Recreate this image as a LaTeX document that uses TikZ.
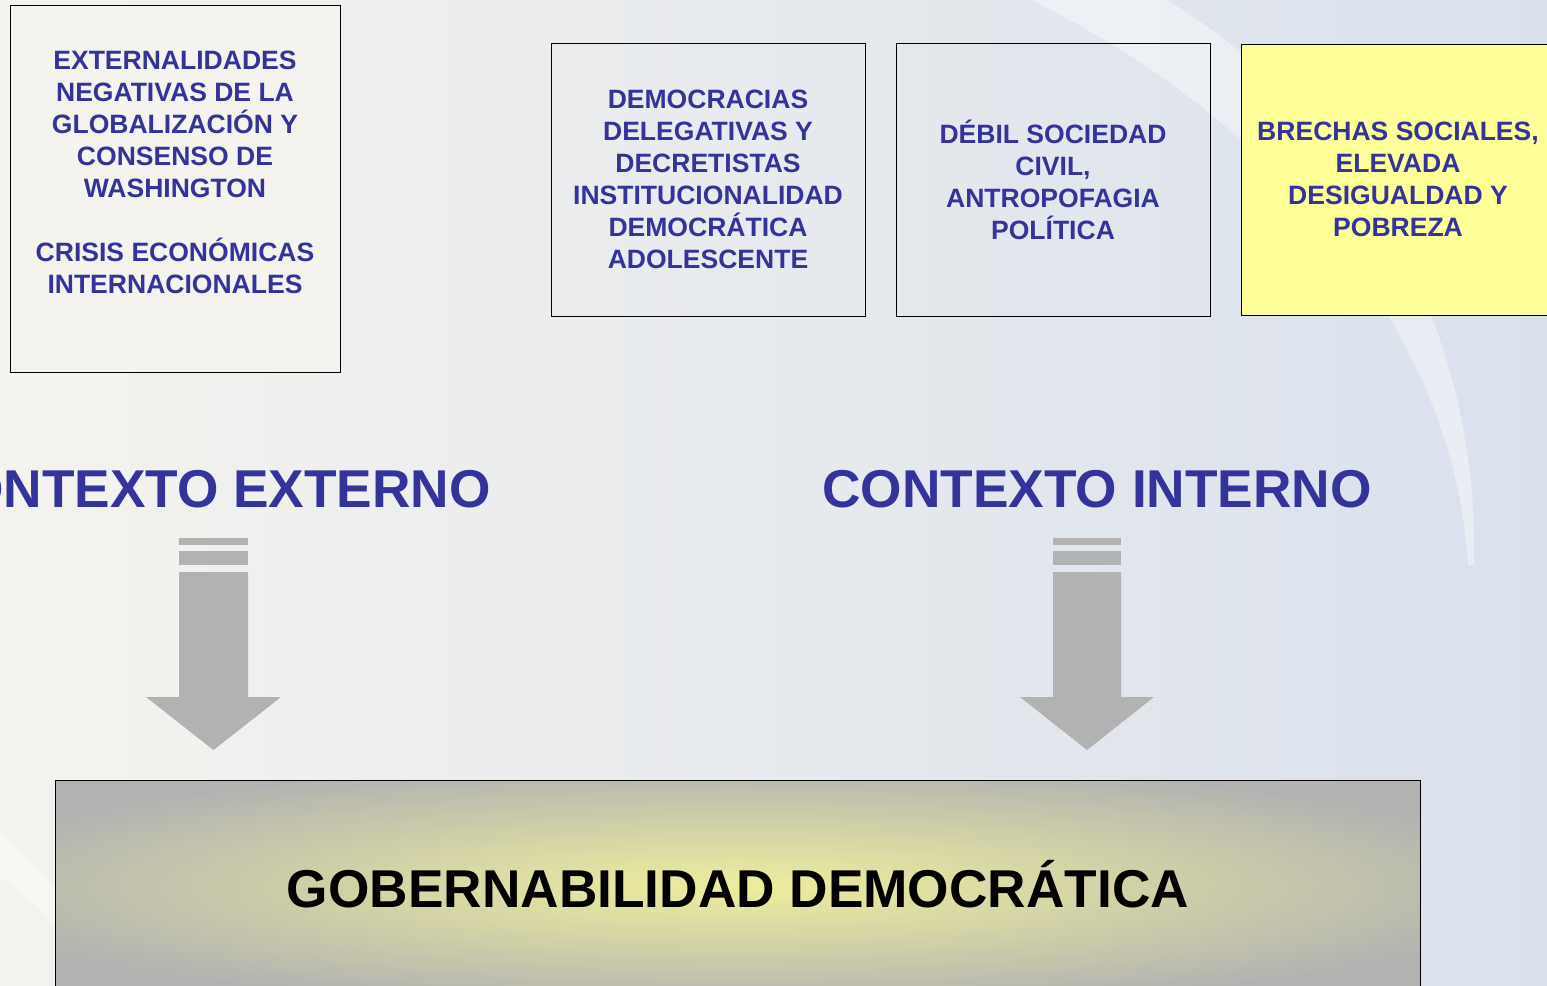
\documentclass[tikz,border=0pt]{standalone}
\usepackage{fontspec}
\setmainfont{Liberation Sans}
\usetikzlibrary{positioning}

\definecolor{azul}{RGB}{51,51,153}
\definecolor{fondoizq}{RGB}{244,243,238}
\definecolor{fondoder}{RGB}{218,225,237}
\definecolor{gris}{RGB}{178,178,178}
\definecolor{brillo}{RGB}{238,238,158}
\definecolor{amarillo}{RGB}{255,255,153}

\tikzset{
  caja/.style={draw=black, thin, align=center, text=azul, inner sep=0pt,
    font=\bfseries\fontsize{15.1}{18.2}\selectfont, minimum width=6.28cm, minimum height=5.46cm},
  titulo/.style={text=azul, inner sep=0pt, font=\bfseries\fontsize{30.3}{36}\selectfont},
  flecha/.style={fill=gris, draw=none}
}

\begin{document}
\begin{tikzpicture}[x=0.02cm,y=-0.02cm]
\useasboundingbox (0,0) rectangle (1547,985);
\clip (0,0) rectangle (1547,985);
% fondo
\shade[left color=fondoizq, right color=fondoder] (0,0) rectangle (1547,985);
\fill[white, opacity=0.4] (1150,-10) .. controls (1360,110) and (1480,330) .. (1474,565)
  -- (1468,565) .. controls (1455,330) and (1270,110) .. (1010,-10) -- cycle;
\fill[white, opacity=0.35] (-10,820) .. controls (20,850) and (40,870) .. (70,905)
  -- (70,945) .. controls (40,905) and (15,885) .. (-10,870) -- cycle;

% cajas de arriba
\node[caja, fill=fondoizq, minimum width=6.6cm, minimum height=7.34cm] (externas) at (175,188.5)
  {EXTERNALIDADES\\NEGATIVAS DE LA\\GLOBALIZACIÓN Y\\CONSENSO DE\\WASHINGTON\\[18.2pt]CRISIS ECONÓMICAS\\INTERNACIONALES\\ \mbox{}};
\node[caja] (democracias) at (708,179.5)
  {DEMOCRACIAS\\DELEGATIVAS Y\\DECRETISTAS\\INSTITUCIONALIDAD\\DEMOCRÁTICA\\ADOLESCENTE};
\node[caja] (sociedad) at (1053,179.5)
  {DÉBIL SOCIEDAD\\CIVIL,\\ANTROPOFAGIA\\POLÍTICA};
\node[caja, fill=amarillo, minimum height=5.42cm] (brechas) at (1398,179.5)
  {BRECHAS SOCIALES,\\ELEVADA\\DESIGUALDAD Y\\POBREZA};

% titulos
\node[titulo, anchor=east] (externo) at (491,489) {CONTEXTO EXTERNO};
\node[titulo] (interno) at (1097,489) {CONTEXTO INTERNO};

% flechas
\fill[flecha] (179,538) rectangle (248,545);
\fill[flecha] (179,551) rectangle (248,565);
\fill[flecha] (179,572) -- (248,572) -- (248,697) -- (281,697) -- (213.5,750)
  -- (146,697) -- (179,697) -- cycle;
\fill[flecha] (1053,538) rectangle (1121,545);
\fill[flecha] (1053,551) rectangle (1121,565);
\fill[flecha] (1053,572) -- (1121,572) -- (1121,697) -- (1154,697) -- (1087,750)
  -- (1020,697) -- (1053,697) -- cycle;

% caja de abajo
\fill[gris] (55,780) rectangle (1420,1000);
\begin{scope}
\clip (55,780) rectangle (1420,1000);
\shade[inner color=brillo, outer color=gris] (738,886) ellipse [x radius=820, y radius=125];
\end{scope}
\draw[black, thin] (55,1000) -- (55,780) -- (1420,780) -- (1420,1000);
\node[inner sep=0pt, font=\bfseries\fontsize{30.3}{36}\selectfont] (gobernabilidad) at (738,884)
  {GOBERNABILIDAD DEMOCRÁTICA};
\end{tikzpicture}
\end{document}
